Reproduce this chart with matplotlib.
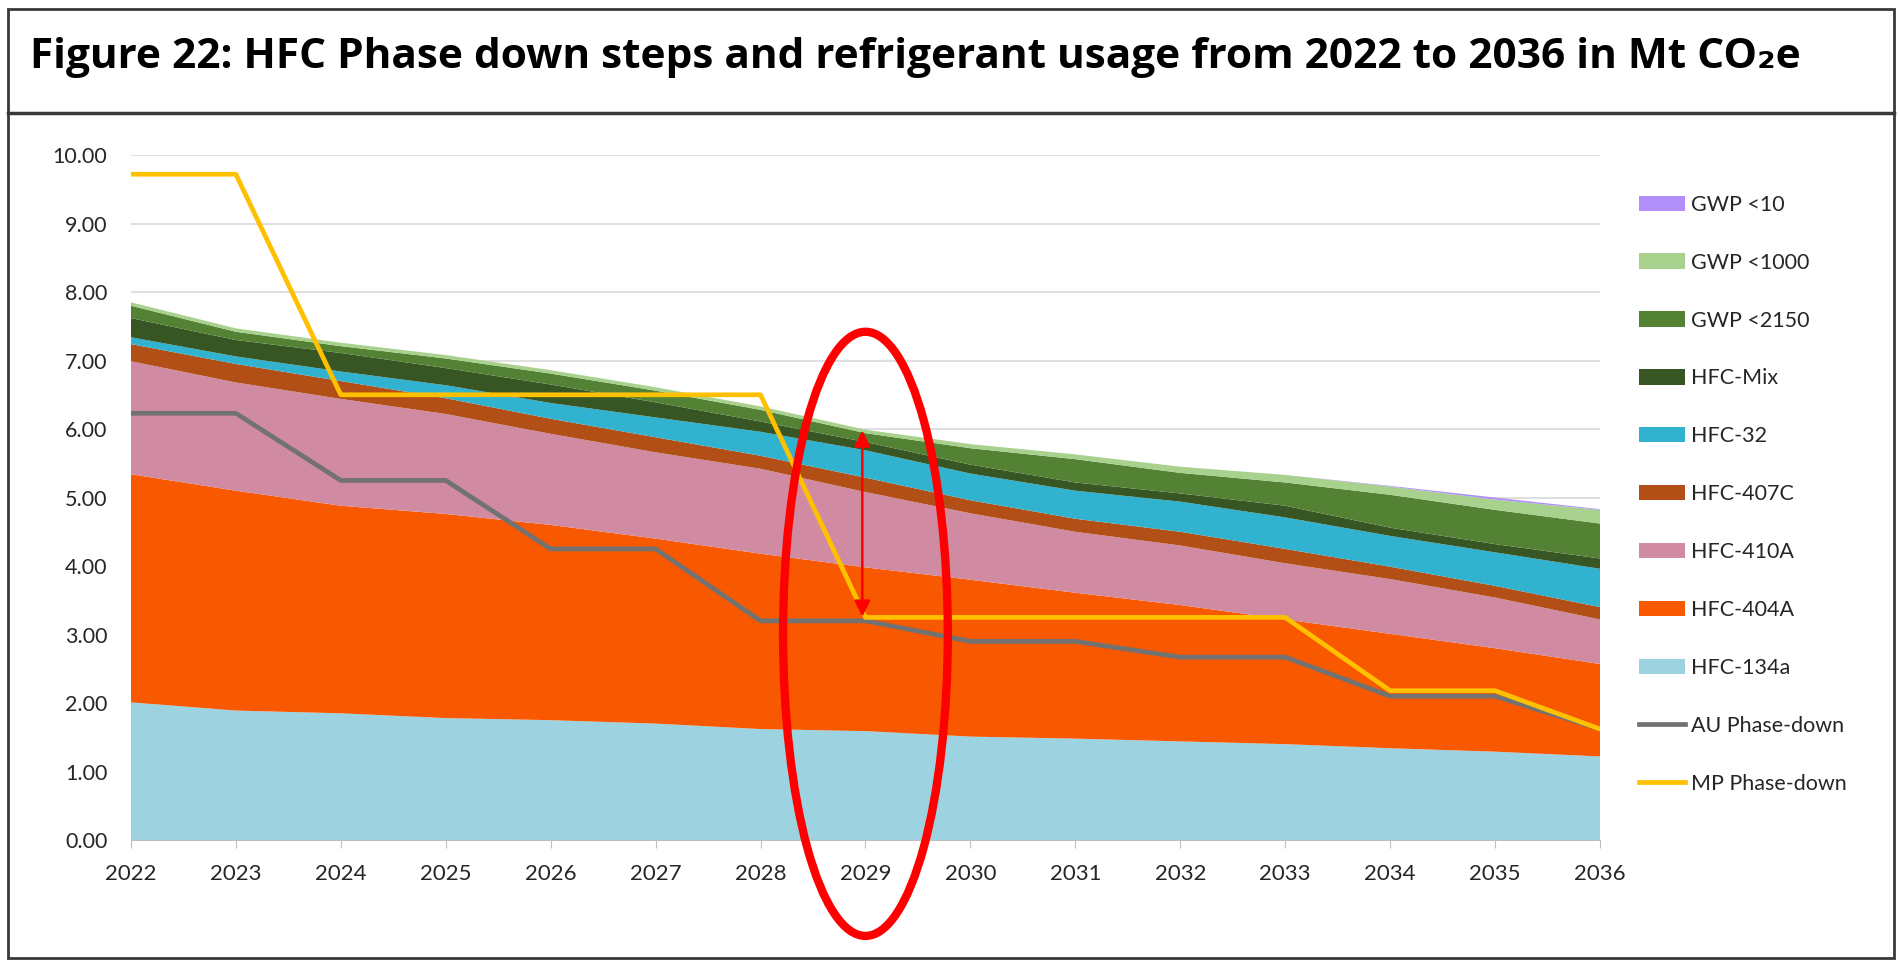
import matplotlib.pyplot as plt
from matplotlib.patches import Patch, Ellipse, Rectangle
from matplotlib.lines import Line2D

plt.rcParams['font.family'] = ['Lato', 'DejaVu Sans']

years = list(range(2022, 2037))

# Refrigerant usage in Mt CO2e (stacked, bottom to top)
hfc_134a = [2.01, 1.89, 1.85, 1.78, 1.75, 1.70, 1.62, 1.59, 1.51, 1.48, 1.44, 1.40, 1.34, 1.29, 1.22]
hfc_404a = [3.33, 3.21, 3.03, 2.98, 2.85, 2.70, 2.56, 2.39, 2.29, 2.13, 1.99, 1.82, 1.67, 1.51, 1.35]
hfc_410a = [1.65, 1.58, 1.56, 1.46, 1.33, 1.26, 1.24, 1.10, 0.97, 0.89, 0.87, 0.82, 0.80, 0.74, 0.65]
hfc_407c = [0.25, 0.27, 0.26, 0.23, 0.22, 0.22, 0.19, 0.21, 0.19, 0.19, 0.20, 0.21, 0.18, 0.17, 0.18]
hfc_32 = [0.10, 0.11, 0.14, 0.19, 0.23, 0.29, 0.35, 0.40, 0.39, 0.41, 0.44, 0.46, 0.45, 0.49, 0.56]
hfc_mix = [0.28, 0.24, 0.27, 0.25, 0.27, 0.22, 0.15, 0.12, 0.13, 0.12, 0.12, 0.17, 0.12, 0.12, 0.15]
gwp_2150 = [0.18, 0.12, 0.10, 0.14, 0.16, 0.17, 0.17, 0.13, 0.24, 0.34, 0.30, 0.34, 0.48, 0.50, 0.51]
gwp_1000 = [0.05, 0.05, 0.05, 0.05, 0.05, 0.05, 0.05, 0.05, 0.06, 0.07, 0.09, 0.11, 0.12, 0.15, 0.20]
gwp_10 = [0, 0, 0, 0, 0, 0, 0, 0, 0, 0, 0, 0, 0.01, 0.03, 0.01]

# Phase-down limits
au_phase = [6.23, 6.23, 5.25, 5.25, 4.25, 4.25, 3.20, 3.20, 2.90, 2.90, 2.67, 2.67, 2.10, 2.10, 1.62]
mp_phase = [9.72, 9.72, 6.50, 6.50, 6.50, 6.50, 6.50, 3.25, 3.25, 3.25, 3.25, 3.25, 2.18, 2.18, 1.62]

stack_labels = ['HFC-134a', 'HFC-404A', 'HFC-410A', 'HFC-407C', 'HFC-32',
                'HFC-Mix', 'GWP <2150', 'GWP <1000', 'GWP <10']
stack_colors = ['#9DD3E0', '#F85800', '#D08BA3', '#B24F17', '#31B2CE',
                '#375623', '#548235', '#A9D18E', '#B08FFA']
au_color = '#727272'
mp_color = '#FFC000'

fig = plt.figure(figsize=(19, 9.69), dpi=100)
ax = fig.add_axes([0.0689, 0.1331, 0.7732, 0.7069])

ax.stackplot(years, hfc_134a, hfc_404a, hfc_410a, hfc_407c, hfc_32,
             hfc_mix, gwp_2150, gwp_1000, gwp_10,
             colors=stack_colors, linewidth=0, zorder=2)
ax.plot(years, au_phase, color=au_color, lw=3.4, zorder=3)
ax.plot(years, mp_phase, color=mp_color, lw=3.4, zorder=4)

ax.set_xlim(2022, 2036)
ax.set_ylim(0, 10)
ax.set_xticks(years)
ax.set_xticklabels([str(y) for y in years])
ax.set_yticks([i for i in range(11)])
ax.set_yticklabels(['%.2f' % i for i in range(11)])
ax.grid(axis='y', color='#D9D9D9', lw=1.2, zorder=0)
ax.set_axisbelow(True)
for s in ['top', 'right', 'left']:
    ax.spines[s].set_visible(False)
ax.spines['bottom'].set_color('#BFBFBF')
ax.spines['bottom'].set_zorder(5)
ax.tick_params(axis='x', length=6, color='#BFBFBF', pad=11, labelsize=16, labelcolor='#262626')
ax.tick_params(axis='y', length=0, pad=17, labelsize=15.5, labelcolor='#262626')

# highlight around 2029
ell = Ellipse((2029, 3.01), 1.57, 8.82, fill=False, edgecolor='#FF0000', lw=6, clip_on=False, zorder=6)
ax.add_patch(ell)
ax.annotate('', xy=(2028.97, 5.98), xytext=(2028.97, 3.26),
            arrowprops=dict(arrowstyle='<|-|>', color='#FF0000', lw=1.8,
                            mutation_scale=24, shrinkA=0, shrinkB=0), zorder=7)

# legend
handles = []
names = []
for lab, col in reversed(list(zip(stack_labels, stack_colors))):
    handles.append(Patch(facecolor=col, edgecolor='none'))
    names.append(lab)
handles.append(Line2D([0], [0], color=au_color, lw=3.4))
names.append('AU Phase-down')
handles.append(Line2D([0], [0], color=mp_color, lw=3.4))
names.append('MP Phase-down')
fig.legend(handles, names, loc='upper left', bbox_to_anchor=(0.8626, 0.799),
           frameon=False, fontsize=15.5, labelspacing=1.76, handlelength=2.13,
           handleheight=0.72, handletextpad=0.3, borderpad=0, borderaxespad=0,
           labelcolor='#262626')

# title box and outer frame
fig.patches.append(Rectangle((0.004, 0.0114), 0.993, 0.979, transform=fig.transFigure,
                             fill=False, edgecolor='#3A3A3A', lw=2))
fig.add_artist(Line2D([0.004, 0.997], [0.883, 0.883], transform=fig.transFigure,
                      color='#3A3A3A', lw=2.5))
fig.text(0.016, 0.941, 'Figure 22: HFC Phase down steps and refrigerant usage from 2022 to 2036 in Mt CO\u2082e',
         fontsize=30.5, fontweight='bold', va='center', ha='left', color='black',
         family=['Open Sans', 'DejaVu Sans'])

fig.savefig('out.png', dpi=100)
